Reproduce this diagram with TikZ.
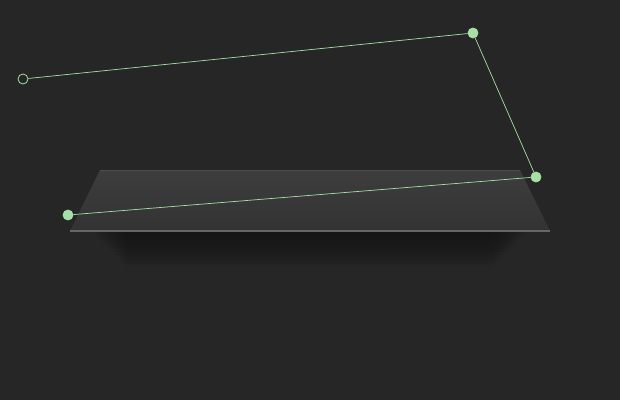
\documentclass[tikz,border=0pt]{standalone}
\usepackage{xcolor}
\usepackage{tikz}
\usetikzlibrary{calc}
\definecolor{bgdark}{HTML}{262626}
\definecolor{shelftop}{HTML}{3D3D3D}
\definecolor{shelfbot}{HTML}{333333}
\definecolor{shelfedge}{HTML}{666666}
\definecolor{ptgreen}{HTML}{A6E0A6}

\begin{document}
\begin{tikzpicture}[
    x=1pt, y=-1pt,
    handle/.style={circle, inner sep=0pt, minimum size=10pt, line width=0.8pt, draw=ptgreen},
    openhandle/.style={handle, fill=bgdark},
    solidhandle/.style={handle, fill=ptgreen},
    wire/.style={draw=ptgreen, line width=0.7pt},
]

% Background
\fill[bgdark] (0,0) rectangle (620,400);
\useasboundingbox (0,0) rectangle (620,400);

% Shadow under the shelf
\foreach \i in {1,...,12} {
    \fill[black, opacity=0.035] ($(90+3*\i,231)$) rectangle ($(530-3*\i,231+3*\i)$);
}

% Shelf plane
\shade[top color=shelftop, bottom color=shelfbot] (100,170) -- (520,170) -- (550,231) -- (70,231) -- cycle;
\draw[black!70, line width=0.6pt] (100,170) -- (520,170);
\draw[shelfedge, line width=1.6pt] (70,231) -- (550,231);

% Handles
\node[openhandle] (start) at (23,79) {};
\node[solidhandle] (peak) at (473,33) {};
\node[solidhandle] (corner) at (536,177) {};
\node[solidhandle] (tail) at (68,215) {};

% Polyline
\draw[wire] (start) -- (peak);
\draw[wire] (peak) -- (corner);
\draw[wire] (corner) -- (tail);

\end{tikzpicture}
\end{document}
